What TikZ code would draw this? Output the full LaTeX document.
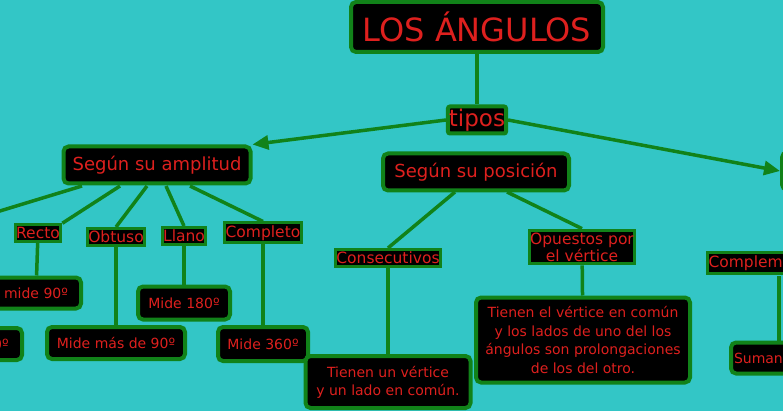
\documentclass[tikz,border=0pt]{standalone}
\usepackage{fontspec}
\setmainfont{DejaVu Sans}
\usetikzlibrary{positioning, arrows.meta}
\definecolor{fondo}{RGB}{51,198,198}
\definecolor{borde}{RGB}{17,130,25}
\definecolor{letra}{RGB}{222,32,30}
\tikzset{
  caja/.style={draw=borde, line width=4pt, fill=black, rounded corners=5pt,
    text=letra, font=\fontsize{14}{17}\selectfont, inner sep=3pt, align=center},
  etiqueta/.style={draw=borde, line width=3pt, fill=black, text=letra,
    font=\fontsize{15.5}{16}\selectfont, inner xsep=1pt, inner ysep=2.5pt},
  linea/.style={draw=borde, line width=3.5pt},
  flecha/.style={linea, -{Triangle[length=16pt,width=14pt]}}
}
\begin{document}
\begin{tikzpicture}[x=1pt,y=-1pt]
\fill[fondo] (0,0) rectangle (783,411);
\useasboundingbox (0,0) rectangle (783,411);
\clip (0,0) rectangle (783,411);
% nivel superior
\node[caja, font=\fontsize{32}{34}\selectfont, minimum width=252pt, minimum height=50pt] (titulo) at (477,27) {LOS ÁNGULOS};
\node[caja, font=\fontsize{23}{24}\selectfont, rounded corners=2pt, inner sep=1pt, minimum height=27pt] (tipos) at (477,120) {tipos};
\node[caja, font=\fontsize{18}{20}\selectfont, minimum width=187pt, minimum height=37pt] (amplitud) at (157,165) {Según su amplitud};
\node[caja, font=\fontsize{18}{20}\selectfont, minimum width=186pt, minimum height=37pt] (posicion) at (476,172) {Según su posición};
\node[caja, minimum width=60pt, minimum height=37pt, anchor=west] (tercero) at (780,171) {};
\draw[linea] (titulo) -- (tipos);
\draw[flecha] (tipos.west) -- (amplitud.north east);
\draw[flecha] (tipos.east) -- (tercero.west);
% amplitud
\coordinate (izq) at (-10,214);
\node[etiqueta] (recto) at (38,233) {Recto};
\node[etiqueta] (obtuso) at (116,237) {Obtuso};
\node[etiqueta] (llano) at (184,236) {Llano};
\node[etiqueta] (completo) at (263,233) {Completo};
\draw[linea] (82,186) -- (izq);
\draw[linea] (120,186) -- (recto.north east);
\draw[linea] (147,186) -- (obtuso.north);
\draw[linea] (166,186) -- (llano.north);
\draw[linea] (190,186) -- (completo.north);
\node[caja, minimum width=90pt, minimum height=31pt] (recto90) at (36,293) {mide 90º};
\node[caja, minimum width=60pt, minimum height=32pt] (agudo) at (-8,344) {\phantom{00}0º};
\node[caja, minimum width=138pt, minimum height=32pt] (obtuso90) at (116,343) {Mide más de 90º};
\node[caja, minimum width=92pt, minimum height=33pt] (llano180) at (184,303) {Mide 180º};
\node[caja, minimum width=90pt, minimum height=34pt] (completo360) at (263,344) {Mide 360º};
\draw[linea] (recto) -- (recto90);
\draw[linea] (obtuso) -- (obtuso90);
\draw[linea] (llano) -- (llano180);
\draw[linea] (completo) -- (completo360);
% posicion
\node[etiqueta] (consec) at (388,258) {Consecutivos};
\node[etiqueta, align=center, font=\fontsize{15.5}{17}\selectfont] (opuestos) at (582,247) {Opuestos por\\el vértice};
\draw[linea] (455,192) -- (consec.north);
\draw[linea] (507,192) -- (opuestos.north);
\node[caja, minimum width=165pt, minimum height=52pt, font=\fontsize{14}{18}\selectfont] (consectxt) at (388,382) {Tienen un vértice\\y un lado en común.};
\node[caja, font=\fontsize{14}{18.5}\selectfont, minimum width=214pt, minimum height=85pt] (opuestostxt) at (583,340) {Tienen el vértice en común\\y los lados de uno del los\\ángulos son prolongaciones\\de los del otro.};
\draw[linea] (consec) -- (consectxt);
\draw[linea] (opuestos) -- (opuestostxt);
% derecha
\node[etiqueta, anchor=west] (complem) at (706,263) {Complementarios};
\node[caja, anchor=west, minimum height=31pt] (suma) at (729,358) {Suman 90º};
\draw[linea] (779,276) -- (779,342);
\end{tikzpicture}
\end{document}
